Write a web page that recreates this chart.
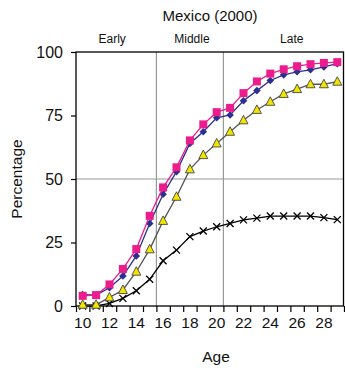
<!DOCTYPE html>
<html>
<head>
<meta charset="utf-8">
<script src="https://cdn.jsdelivr.net/npm/d3@7"></script>
<style>
  body { margin: 0; background: #fff; }
  text { font-family: "Liberation Sans", Arial, sans-serif; fill: #111; }
</style>
</head>
<body>
<div id="chart"></div>
<script>
const ages = d3.range(10, 30);
const pink = [4, 4.3, 8.5, 14.6, 22.4, 35.5, 46.7, 54.6, 65.2, 71.5, 76.3, 78, 83.8, 88.4, 91.5, 93.2, 94.4, 95.2, 95.7, 96];
const blue = [4.5, 4.3, 7.2, 11.8, 19.7, 32.5, 44, 52.9, 64, 68.6, 74.1, 75.2, 80.8, 84.8, 88.8, 91, 92.2, 93, 94.1, 95.4];
const yellow = [0.5, 0.5, 3.4, 6.3, 13.5, 22.3, 33.5, 43, 53.8, 59.4, 64, 68.6, 73.1, 77.2, 80.4, 83.5, 85.4, 87.3, 87.3, 88.3];
const black = [0, 0, 1, 3, 6, 10.5, 17.8, 22, 27.3, 29.5, 31.2, 32.5, 33.9, 34.6, 35.4, 35.4, 35.4, 35.4, 34.8, 34];
const yTicks = [0, 25, 50, 75, 100];
const xLabels = [10, 12, 14, 16, 18, 20, 22, 24, 26, 28];
const stages = [
  { name: 'Early', age: 12.2 },
  { name: 'Middle', age: 18.15 },
  { name: 'Late', age: 25.6 }
];
const stageBreaks = [15.5, 20.5];

const width = 345;
const height = 370;
const margin = { top: 52, right: 1, bottom: 64, left: 76 };

const svg = d3
  .select('#chart')
  .append('svg')
  .attr('width', width)
  .attr('height', height);

const x = d3
  .scaleLinear()
  .domain([9.5, 29.5])
  .range([margin.left, width - margin.right]);

const y = d3
  .scaleLinear()
  .domain([0, 100])
  .range([height - margin.bottom, margin.top]);

// grid lines
svg
  .append('line')
  .attr('x1', x(9.5))
  .attr('x2', x(29.5))
  .attr('y1', y(50))
  .attr('y2', y(50))
  .attr('stroke', '#999')
  .attr('stroke-width', 1.2);

svg
  .selectAll('.vgrid')
  .data(stageBreaks)
  .enter()
  .append('line')
  .attr('x1', d => x(d))
  .attr('x2', d => x(d))
  .attr('y1', y(0))
  .attr('y2', y(100))
  .attr('stroke', '#999')
  .attr('stroke-width', 1.2);

// frame
svg
  .append('rect')
  .attr('x', x(9.5))
  .attr('y', y(100))
  .attr('width', x(29.5) - x(9.5) - 0.5)
  .attr('height', y(0) - y(100))
  .attr('fill', 'none')
  .attr('stroke', '#000')
  .attr('stroke-width', 1.3);

// axes
const yAxis = d3
  .axisLeft(y)
  .tickValues(yTicks)
  .tickSize(5)
  .tickPadding(8);

svg
  .append('g')
  .attr('transform', `translate(${x(9.5)}, 0)`)
  .call(yAxis)
  .call(g => g.select('.domain').remove())
  .call(g => g.selectAll('line').attr('stroke', '#000').attr('stroke-width', 1.2))
  .call(g => g.selectAll('text').attr('font-size', 16).attr('fill', '#111'));

const xAxis = d3
  .axisBottom(x)
  .tickValues(d3.range(9.5, 30, 1))
  .tickSize(6)
  .tickFormat('');

svg
  .append('g')
  .attr('transform', `translate(0, ${y(0)})`)
  .call(xAxis)
  .call(g => g.select('.domain').remove())
  .call(g => g.selectAll('line').attr('stroke', '#000').attr('stroke-width', 1.2));

svg
  .selectAll('.xlabel')
  .data(xLabels)
  .enter()
  .append('text')
  .attr('x', d => x(d))
  .attr('y', y(0) + 22)
  .attr('text-anchor', 'middle')
  .attr('font-size', 15.5)
  .text(d => d);

// titles
svg
  .append('text')
  .attr('x', 210)
  .attr('y', 21)
  .attr('text-anchor', 'middle')
  .attr('font-size', 15)
  .text('Mexico (2000)');

svg
  .selectAll('.stage')
  .data(stages)
  .enter()
  .append('text')
  .attr('x', d => x(d.age))
  .attr('y', 43)
  .attr('text-anchor', 'middle')
  .attr('font-size', 12)
  .text(d => d.name);

svg
  .append('text')
  .attr('x', (x(9.5) + x(29.5)) / 2 + 6)
  .attr('y', 362)
  .attr('text-anchor', 'middle')
  .attr('font-size', 15.5)
  .text('Age');

svg
  .append('text')
  .attr('transform', `translate(22, ${y(50)}) rotate(-90)`)
  .attr('text-anchor', 'middle')
  .attr('font-size', 15.5)
  .text('Percentage');

// series
const line = d3
  .line()
  .x(d => x(d.age))
  .y(d => y(d.value));

const series = [
  { values: black, stroke: '#000', marker: 'x' },
  { values: yellow, stroke: '#555', marker: 'triangle' },
  { values: blue, stroke: '#2b2f8f', marker: 'diamond' },
  { values: pink, stroke: '#ec1c8c', marker: 'square' }
];

series.forEach(s => {
  const pts = ages.map((a, i) => ({ age: a, value: s.values[i] }));
  const g = svg.append('g');

  g.append('path')
    .datum(pts)
    .attr('d', line)
    .attr('fill', 'none')
    .attr('stroke', s.stroke)
    .attr('stroke-width', 1.3);

  const marks = g
    .selectAll('.mark')
    .data(pts)
    .enter()
    .append('g')
    .attr('transform', d => `translate(${x(d.age)}, ${y(d.value)})`);

  if (s.marker === 'square') {
    marks
      .append('rect')
      .attr('x', -4)
      .attr('y', -4)
      .attr('width', 8)
      .attr('height', 8)
      .attr('fill', '#ec1c8c');
  } else if (s.marker === 'diamond') {
    marks
      .append('path')
      .attr('d', 'M0,-3.8L3.8,0L0,3.8L-3.8,0Z')
      .attr('fill', '#2b2f8f');
  } else if (s.marker === 'triangle') {
    marks
      .append('path')
      .attr('d', 'M0,-5L4.5,3.5L-4.5,3.5Z')
      .attr('fill', '#f2e600')
      .attr('stroke', '#444')
      .attr('stroke-width', 0.9);
  } else {
    marks
      .append('path')
      .attr('d', 'M-3.5,-3.5L3.5,3.5M-3.5,3.5L3.5,-3.5')
      .attr('stroke', '#000')
      .attr('stroke-width', 1.3);
  }
});
</script>
</body>
</html>
